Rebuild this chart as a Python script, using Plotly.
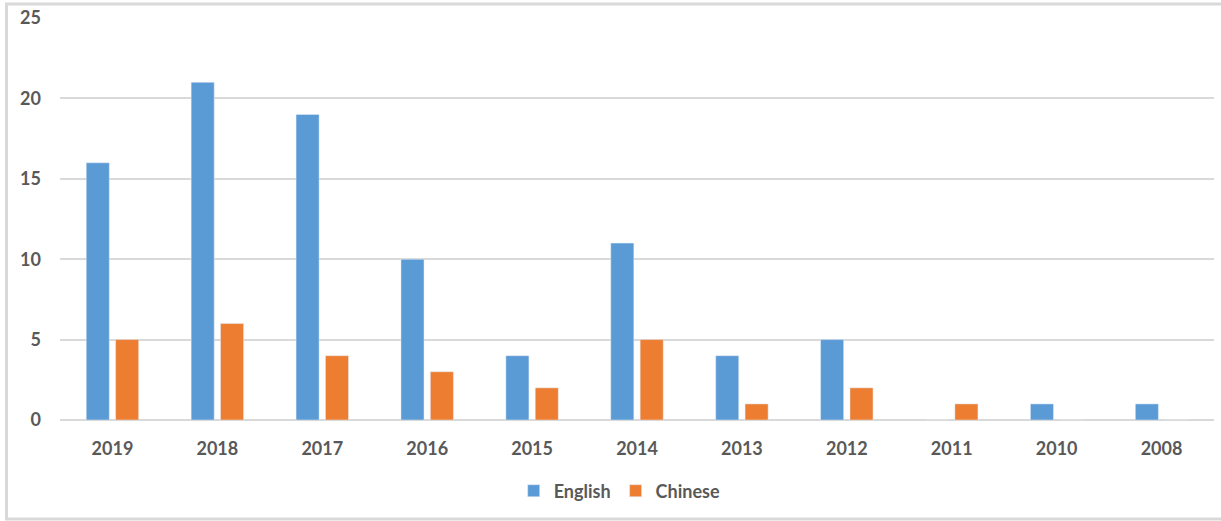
import plotly.graph_objects as go

years = ["2019", "2018", "2017", "2016", "2015", "2014", "2013", "2012", "2011", "2010", "2008"]
english = [16, 21, 19, 10, 4, 11, 4, 5, 0, 1, 1]
chinese = [5, 6, 4, 3, 2, 5, 1, 2, 1, 0, 0]

FONT = "Lato"
GRAY = "#595959"

fig = go.Figure()
fig.add_trace(go.Bar(x=years, y=english, name="English", marker_color="#5B9BD5"))
fig.add_trace(go.Bar(x=years, y=chinese, name="Chinese", marker_color="#ED7D31"))

L, R, T, B = 60, 7, 18, 101
W, H = 1221, 521
pw = W - L - R
ph = H - T - B

def px_x(x):
    return (x - L) / pw

def px_y(y):
    return (H - B - y) / ph

fig.update_layout(
    width=W, height=H,
    margin=dict(l=L, r=R, t=T, b=B),
    paper_bgcolor="white", plot_bgcolor="white",
    barmode="group", bargap=0.44, bargroupgap=0.215,
    font=dict(family=FONT, size=18, color=GRAY),
    showlegend=True,
    legend=dict(orientation="h", x=0.485, xanchor="center", y=px_y(491), yanchor="middle",
                font=dict(family=FONT, size=18, color=GRAY, weight="bold"),
                itemwidth=30, traceorder="normal"),
    xaxis=dict(type="category", showgrid=False, showline=False, ticks="",
               tickfont=dict(family=FONT, size=18, color=GRAY, weight="bold"), ticklabelstandoff=16),
    yaxis=dict(range=[0, 25], dtick=5, showgrid=True, gridcolor="#D9D9D9", gridwidth=1.5,
               zeroline=True, zerolinecolor="#D9D9D9", zerolinewidth=1.5, showline=False, ticks="",
               tickfont=dict(family=FONT, size=18, color=GRAY, weight="bold"), ticklabelstandoff=18),
    shapes=[dict(type="rect", xref="paper", yref="paper",
                 x0=px_x(6.5), x1=px_x(1225), y0=px_y(519), y1=px_y(4),
                 line=dict(color="#D9D9D9", width=3), fillcolor="rgba(0,0,0,0)", layer="below")],
)

fig.write_html("out.html")
